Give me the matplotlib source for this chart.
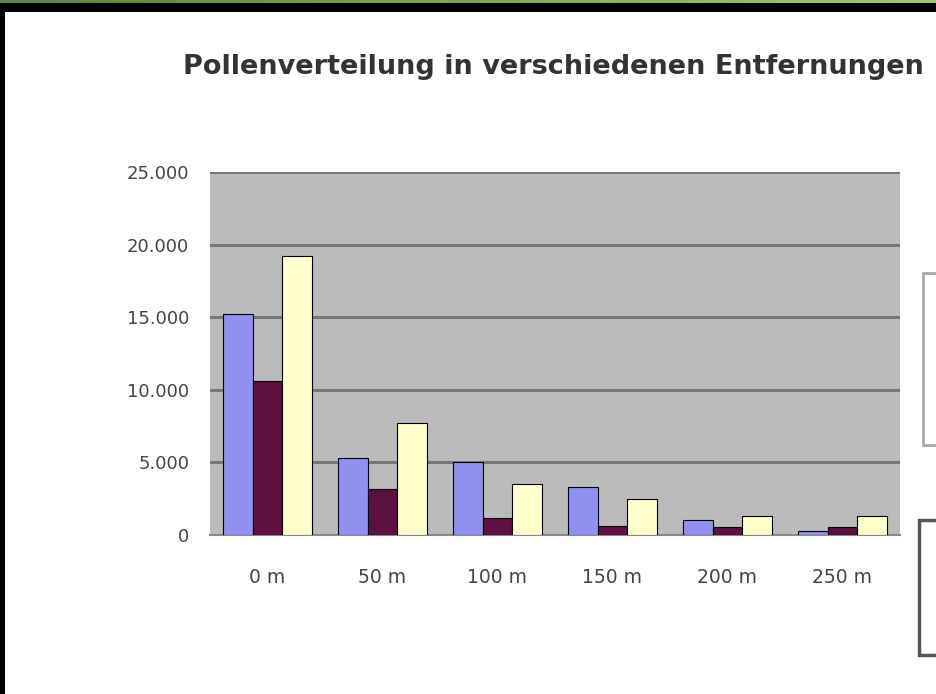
import matplotlib
matplotlib.use("Agg")
import matplotlib.pyplot as plt
import numpy as np
from matplotlib.patches import Rectangle

title = "Pollenverteilung in verschiedenen Entfernungen"
categories = ["0 m", "50 m", "100 m", "150 m", "200 m", "250 m"]
series_names = ["Reihe1", "Reihe2", "Reihe3"]
reihe1 = [15200, 5300, 5000, 3300, 1000, 300]
reihe2 = [10600, 3200, 1200, 600, 550, 550]
reihe3 = [19200, 7700, 3500, 2500, 1300, 1300]
yticks = [0, 5000, 10000, 15000, 20000, 25000]
ytick_labels = ["0", "5.000", "10.000", "15.000", "20.000", "25.000"]

colors = ["#9090F0", "#5E1040", "#FFFFCC"]
W, H = 937, 694

fig = plt.figure(figsize=(W / 100, H / 100), dpi=100)
fig.patch.set_facecolor("white")

# plot area in pixel units
left, right, top, bottom = 210, 900, 172, 535
ax = fig.add_axes([left / W, 1 - bottom / H, (right - left) / W, (bottom - top) / H])
ax.set_facecolor("#BBBBBB")

x = np.arange(len(categories))
width = 0.26
for i, (vals, color, name) in enumerate(zip([reihe1, reihe2, reihe3], colors, series_names)):
    ax.bar(x + (i - 1) * width, vals, width, color=color, edgecolor="black",
           linewidth=0.8, label=name, zorder=3)

ax.set_xlim(-0.5, len(categories) - 0.5)
ax.set_ylim(0, 25000)
ax.set_yticks(yticks)
ax.set_yticklabels(ytick_labels)
ax.set_xticks(x)
ax.set_xticklabels(categories)
ax.yaxis.grid(True, color="#777777", linewidth=2.2, zorder=1)
ax.set_axisbelow(True)
ax.tick_params(axis="y", length=0, pad=15, labelsize=13, labelcolor="#444444")
ax.tick_params(axis="x", length=0, pad=24, labelsize=13.5, labelcolor="#444444")
for side in ["top", "right", "left"]:
    ax.spines[side].set_visible(False)
ax.spines["bottom"].set_color("#888888")
ax.spines["bottom"].set_linewidth(1.5)

fig.text(183 / W, 1 - 74 / H, title, fontsize=19.5, fontweight="bold",
         color="#333333", ha="left", va="baseline")

# window frame: green strip, black top band, black left edge
grad = fig.add_axes([0, 1 - 3 / H, 1, 3 / H])
grad.imshow(np.linspace(0, 1, 256)[None, :], aspect="auto",
            cmap=matplotlib.colors.LinearSegmentedColormap.from_list("g", ["#5f8040", "#9fcc6f"]))
grad.axis("off")
fig.patches.append(Rectangle((0, 1 - 12 / H), 1, 9 / H, transform=fig.transFigure,
                             facecolor="black", edgecolor="none"))
fig.patches.append(Rectangle((0, 0), 5 / W, 1 - 3 / H, transform=fig.transFigure,
                             facecolor="black", edgecolor="none"))

# legend boxes cut off at the right edge
fig.patches.append(Rectangle((923 / W, 1 - 445 / H), 40 / W, 172 / H, transform=fig.transFigure,
                             facecolor="white", edgecolor="#a8a8a8", linewidth=2))
fig.patches.append(Rectangle((919 / W, 1 - 655 / H), 40 / W, 135 / H, transform=fig.transFigure,
                             facecolor="white", edgecolor="#555555", linewidth=2.5))

fig.savefig("out.png", dpi=100)
